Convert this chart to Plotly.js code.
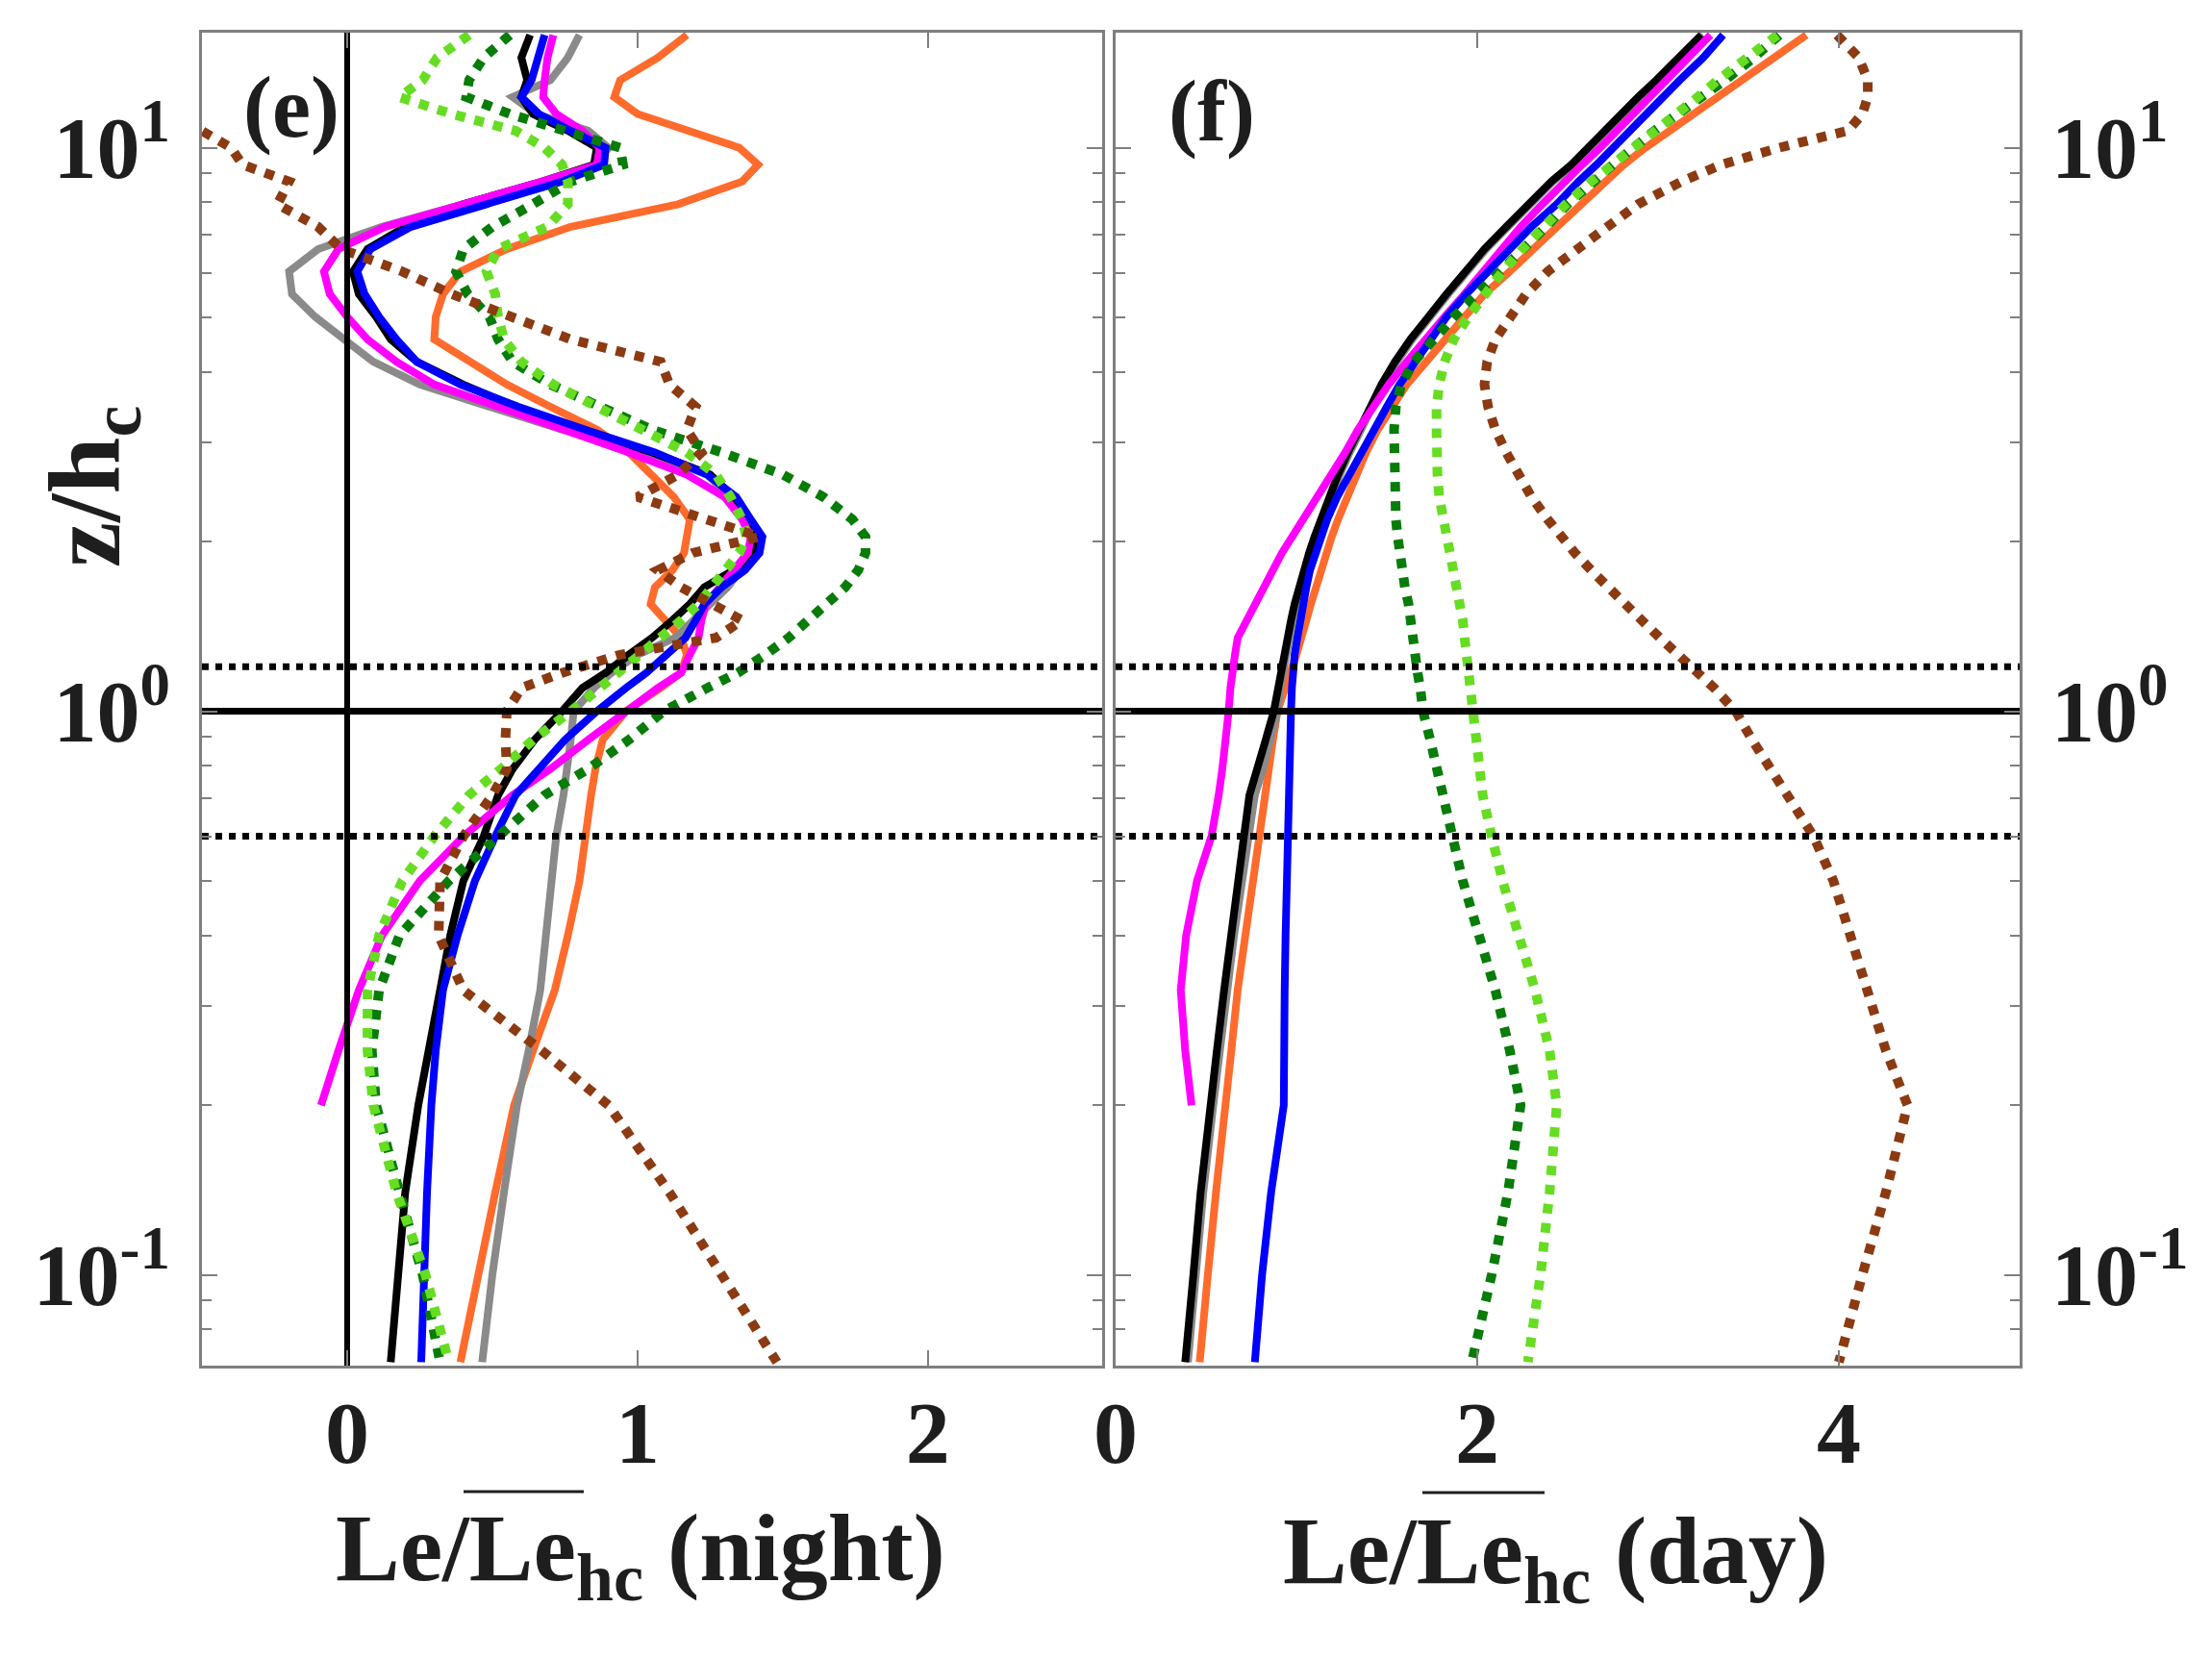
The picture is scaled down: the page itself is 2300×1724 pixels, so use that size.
<!DOCTYPE html>
<html>
<head>
<meta charset="utf-8">
<script src="https://cdn.plot.ly/plotly-3.0.1.min.js"></script>
<style>
  html, body { margin: 0; padding: 0; background: #fff; }
  #chart { width: 2300px; height: 1724px; }
</style>
</head>
<body>
<div id="chart"></div>
<script>
/* ─── Data ──────────────────────────────────────────────────────────────── */
// heights z/hc shared by every profile (top to bottom)
const zLevels = [15.85, 14.45, 13.18, 12.30, 11.48, 10.72, 10.0, 9.33, 8.71, 7.94,
  7.24, 6.61, 6.03, 5.50, 5.01, 4.57, 4.17, 3.80, 3.47, 3.16,
  2.88, 2.63, 2.40, 2.19, 2.04, 1.91, 1.78, 1.66, 1.55, 1.45,
  1.35, 1.26, 1.17, 1.10, 1.00, 0.89, 0.79, 0.71, 0.60, 0.50,
  0.40, 0.32, 0.25, 0.20, 0.14, 0.10, 0.07];

// panel (e): night
const blackNight = [0.63, 0.60, 0.62, 0.60, 0.64, 0.76, 0.86, 0.85, 0.67, 0.40,
  0.20, 0.07, 0.02, 0.04, 0.10, 0.15, 0.24, 0.40, 0.58, 0.79,
  1.05, 1.25, 1.33, 1.38, 1.42, 1.40, 1.33, 1.23, 1.18, 1.12,
  1.05, 0.97, 0.89, 0.81, 0.74, 0.645, 0.57, 0.52, 0.47, 0.40,
  0.355, 0.32, 0.28, 0.245, 0.20, 0.178, 0.15];
const blueNight = [0.68, 0.655, 0.635, 0.60, 0.66, 0.77, 0.89, 0.885, 0.74, 0.48,
  0.22, 0.08, 0.035, 0.06, 0.11, 0.17, 0.24, 0.39, 0.59, 0.82,
  1.06, 1.24, 1.34, 1.39, 1.43, 1.42, 1.37, 1.29, 1.23, 1.20,
  1.165, 1.10, 1.03, 0.96, 0.86, 0.75, 0.66, 0.58, 0.51, 0.44,
  0.38, 0.33, 0.305, 0.29, 0.275, 0.265, 0.255];
const magentaNight = [0.71, 0.69, 0.68, 0.675, 0.72, 0.81, 0.87, 0.86, 0.67, 0.39,
  0.13, -0.03, -0.08, -0.06, 0.00, 0.07, 0.17, 0.30, 0.52, 0.76,
  0.97, 1.17, 1.30, 1.36, 1.39, 1.38, 1.33, 1.28, 1.235, 1.22,
  1.21, 1.18, 1.15, 1.07, 0.96, 0.83, 0.70, 0.57, 0.40, 0.25,
  0.12, 0.04, -0.03, -0.09, null, null, null];
const grayNight = [0.80, 0.76, 0.70, 0.57, 0.65, 0.83, 0.90, 0.85, 0.68, 0.40,
  0.12, -0.10, -0.20, -0.19, -0.11, -0.01, 0.09, 0.25, 0.49, 0.74,
  1.03, 1.24, 1.32, 1.37, 1.395, 1.39, 1.355, 1.31, 1.25, 1.19,
  1.13, 1.00, 0.91, 0.85, 0.78, 0.77, 0.76, 0.745, 0.72, 0.705,
  0.69, 0.665, 0.625, 0.585, 0.54, 0.50, 0.465];
const orangeNight = [1.17, 1.07, 0.94, 0.92, 1.00, 1.18, 1.35, 1.415, 1.36, 1.14,
  0.77, 0.55, 0.39, 0.33, 0.305, 0.30, 0.42, 0.55, 0.70, 0.86,
  0.97, 1.05, 1.125, 1.18, 1.17, 1.16, 1.12, 1.06, 1.045, 1.10,
  1.15, 1.17, 1.15, 1.08, 0.96, 0.88, 0.855, 0.84, 0.82, 0.80,
  0.76, 0.715, 0.64, 0.575, 0.51, 0.45, 0.39];
const darkGreenNight = [0.56, 0.47, 0.42, 0.41, 0.56, 0.74, 0.94, 0.95, 0.77, 0.64,
  0.50, 0.40, 0.375, 0.415, 0.49, 0.52, 0.57, 0.70, 0.87, 1.05,
  1.29, 1.50, 1.64, 1.74, 1.785, 1.785, 1.76, 1.715, 1.65, 1.59,
  1.52, 1.44, 1.345, 1.24, 1.09, 0.97, 0.83, 0.68, 0.52, 0.35,
  0.18, 0.11, 0.085, 0.10, 0.18, 0.26, 0.32];
const lightGreenNight = [0.42, 0.31, 0.26, 0.18, 0.36, 0.58, 0.68, 0.74, 0.76, 0.76,
  0.69, 0.52, 0.48, 0.51, 0.52, 0.54, 0.60, 0.71, 0.86, 1.01,
  1.17, 1.27, 1.32, 1.36, 1.375, 1.35, 1.305, 1.26, 1.21, 1.15,
  1.08, 1.00, 0.935, 0.87, 0.77, 0.64, 0.53, 0.42, 0.30, 0.19,
  0.11, 0.07, 0.07, 0.09, 0.17, 0.27, 0.35];
const brownNight = [-0.90, -0.80, -0.75, -0.70, -0.60, -0.50, -0.40, -0.36, -0.20, -0.24,
  -0.10, -0.02, 0.19, 0.36, 0.56, 0.77, 1.08, 1.11, 1.20, 1.17,
  1.22, 1.14, 1.00, 1.23, 1.42, 1.19, 1.07, 1.15, 1.26, 1.36,
  1.27, 0.94, 0.74, 0.60, 0.55, 0.545, 0.55, 0.50, 0.40, 0.32,
  0.315, 0.40, 0.67, 0.90, 1.11, 1.29, 1.48];

// panel (f): day
const blackDay = [3.24, 3.12, 2.99, 2.89, 2.80, 2.71, 2.62, 2.52, 2.41, 2.28,
  2.16, 2.04, 1.93, 1.83, 1.73, 1.63, 1.545, 1.47, 1.41, 1.345,
  1.285, 1.23, 1.18, 1.135, 1.10, 1.07, 1.04, 1.01, 0.99, 0.97,
  0.95, 0.93, 0.91, 0.895, 0.875, 0.83, 0.785, 0.74, 0.71, 0.675,
  0.635, 0.60, 0.56, 0.525, 0.47, 0.43, 0.385];
const grayDay = [3.25, 3.13, 3.00, 2.90, 2.81, 2.72, 2.63, 2.53, 2.42, 2.29,
  2.17, 2.05, 1.94, 1.84, 1.74, 1.64, 1.555, 1.48, 1.42, 1.355,
  1.295, 1.24, 1.19, 1.145, 1.11, 1.08, 1.05, 1.02, 1.00, 0.98,
  0.96, 0.94, 0.925, 0.91, 0.895, 0.86, 0.815, 0.77, 0.74, 0.70,
  0.655, 0.615, 0.575, 0.54, 0.485, 0.445, 0.40];
const blueDay = [3.36, 3.25, 3.12, 3.03, 2.93, 2.84, 2.75, 2.66, 2.56, 2.44,
  2.30, 2.18, 2.06, 1.94, 1.83, 1.74, 1.65, 1.57, 1.50, 1.43,
  1.36, 1.29, 1.225, 1.17, 1.135, 1.105, 1.075, 1.055, 1.035, 1.02,
  1.005, 0.99, 0.98, 0.975, 0.97, 0.965, 0.96, 0.955, 0.95, 0.945,
  0.94, 0.935, 0.935, 0.93, 0.86, 0.81, 0.77];
const magentaDay = [3.29, 3.17, 3.04, 2.95, 2.86, 2.77, 2.68, 2.58, 2.48, 2.36,
  2.24, 2.14, 2.04, 1.93, 1.82, 1.71, 1.61, 1.51, 1.42, 1.34,
  1.27, 1.19, 1.11, 1.03, 0.97, 0.92, 0.87, 0.82, 0.77, 0.72,
  0.675, 0.66, 0.645, 0.635, 0.625, 0.61, 0.59, 0.57, 0.53, 0.45,
  0.39, 0.36, 0.385, 0.42, null, null, null];
const orangeDay = [3.82, 3.64, 3.46, 3.33, 3.20, 3.06, 2.93, 2.81, 2.71, 2.57,
  2.43, 2.31, 2.18, 2.04, 1.93, 1.82, 1.71, 1.61, 1.53, 1.45,
  1.385, 1.33, 1.28, 1.23, 1.195, 1.165, 1.135, 1.105, 1.08, 1.055,
  1.03, 1.00, 0.965, 0.935, 0.895, 0.87, 0.845, 0.82, 0.795, 0.76,
  0.715, 0.675, 0.64, 0.605, 0.555, 0.51, 0.465];
const darkGreenDay = [3.67, 3.53, 3.37, 3.25, 3.11, 2.98, 2.86, 2.75, 2.645, 2.50,
  2.38, 2.25, 2.12, 2.00, 1.87, 1.76, 1.65, 1.58, 1.55, 1.54,
  1.54, 1.54, 1.54, 1.55, 1.56, 1.57, 1.59, 1.60, 1.62, 1.63,
  1.645, 1.66, 1.67, 1.685, 1.70, 1.74, 1.775, 1.81, 1.86, 1.92,
  2.01, 2.10, 2.18, 2.24, 2.17, 2.08, 1.97];
const lightGreenDay = [3.66, 3.49, 3.33, 3.22, 3.10, 2.97, 2.85, 2.74, 2.63, 2.49,
  2.36, 2.25, 2.14, 2.04, 1.95, 1.87, 1.82, 1.79, 1.775, 1.775,
  1.775, 1.78, 1.79, 1.815, 1.835, 1.855, 1.87, 1.885, 1.90, 1.92,
  1.93, 1.94, 1.95, 1.96, 1.975, 1.99, 2.01, 2.03, 2.08, 2.14,
  2.23, 2.32, 2.40, 2.44, 2.40, 2.35, 2.28];
const brownDay = [3.99, 4.11, 4.16, 4.16, 4.13, 4.05, 3.67, 3.35, 3.13, 2.89,
  2.72, 2.56, 2.39, 2.27, 2.18, 2.10, 2.055, 2.04, 2.06, 2.10,
  2.16, 2.23, 2.30, 2.39, 2.46, 2.54, 2.63, 2.72, 2.82, 2.91,
  3.01, 3.12, 3.22, 3.31, 3.43, 3.52, 3.62, 3.72, 3.86, 3.97,
  4.06, 4.15, 4.26, 4.38, 4.26, 4.13, 4.00];

// axes and reference lines
const zRange = [0.069, 16.0];
const nightRange = [-0.5, 2.6];
const dayRange = [0, 5];
const nightTicks = [0, 1, 2];
const dayTicks = [0, 2, 4];
const zTicks = [0.1, 1, 10];
const zTickText = ["10<sup>-1</sup>", "10<sup>0</sup>", "10<sup>1</sup>"];
const zMinor = [0.08, 0.09, 0.2, 0.3, 0.4, 0.5, 0.6, 0.7, 0.8, 0.9,
  2, 3, 4, 5, 6, 7, 8, 9];
const canopyTop = 1;
const layerEdges = [0.6, 1.2];

/* ─── Styles ─────────────────────────────────────────────────────────────── */
const FONT = "Liberation Serif, Times New Roman, serif";
const INK = "#1e1e1e";
const FRAME = "#7f7f7f";

const series = [
  { name: "orange", color: "#ff6b2c", dash: "solid", night: orangeNight, day: orangeDay },
  { name: "gray", color: "#8a8a8a", dash: "solid", night: grayNight, day: grayDay },
  { name: "black", color: "#000000", dash: "solid", night: blackNight, day: blackDay },
  { name: "magenta", color: "#ff00ff", dash: "solid", night: magentaNight, day: magentaDay },
  { name: "blue", color: "#0000ff", dash: "solid", night: blueNight, day: blueDay },
  { name: "darkgreen", color: "#087c08", dash: "dot", night: darkGreenNight, day: darkGreenDay },
  { name: "lightgreen", color: "#66dd22", dash: "dot", night: lightGreenNight, day: lightGreenDay },
  { name: "brown", color: "#8b3a12", dash: "dot", night: brownNight, day: brownDay },
];

const traces = [];
series.forEach(s => {
  const w = s.dash === "dot" ? 10 : 8;
  traces.push({ type: "scatter", mode: "lines", x: s.night, y: zLevels, xaxis: "x", yaxis: "y",
    line: { color: s.color, width: w, dash: s.dash }, connectgaps: false, hoverinfo: "skip" });
  traces.push({ type: "scatter", mode: "lines", x: s.day, y: zLevels, xaxis: "x2", yaxis: "y2",
    line: { color: s.color, width: w, dash: s.dash }, connectgaps: false, hoverinfo: "skip" });
});

// reference lines: canopy top, layer edges, zero line
[["x", "y", nightRange], ["x2", "y2", dayRange]].forEach(([xa, ya, rng]) => {
  traces.push({ type: "scatter", mode: "lines", x: rng, y: [canopyTop, canopyTop], xaxis: xa, yaxis: ya,
    line: { color: "#000", width: 7 }, hoverinfo: "skip" });
  layerEdges.forEach(z => traces.push({ type: "scatter", mode: "lines", x: rng, y: [z, z], xaxis: xa, yaxis: ya,
    line: { color: "#000", width: 7, dash: "dot" }, hoverinfo: "skip" }));
});
traces.push({ type: "scatter", mode: "lines", x: [0, 0], y: zRange, xaxis: "x", yaxis: "y",
  line: { color: "#000", width: 6 }, hoverinfo: "skip" });

function xAxis(domain, range, ticks, anchor) {
  return {
    domain, range, anchor, tickmode: "array", tickvals: ticks,
    ticks: "inside", ticklen: 16, tickwidth: 2, tickcolor: FRAME,
    showline: true, linecolor: FRAME, linewidth: 3, mirror: "ticks",
    showgrid: false, zeroline: false, fixedrange: true,
    ticklabelstandoff: -12,
    tickfont: { family: FONT, size: 92, color: INK, weight: "bold" },
  };
}
function yAxis(domain, side, anchor) {
  return {
    domain, side, anchor, type: "log", range: zRange.map(Math.log10),
    tickmode: "array", tickvals: zTicks, ticktext: zTickText,
    ticks: "inside", ticklen: 16, tickwidth: 2, tickcolor: FRAME,
    minor: { tickmode: "array", tickvals: zMinor, ticks: "inside", ticklen: 10, tickwidth: 2, tickcolor: FRAME },
    showline: true, linecolor: FRAME, linewidth: 3, mirror: "ticks",
    showgrid: false, zeroline: false, fixedrange: true,
    ticklabelstandoff: 12,
    tickfont: { family: FONT, size: 90, color: INK, weight: "bold" },
  };
}

const W = 2300, H = 1724;
const yDom = [1 - 1420 / H, 1 - 34 / H];

const label = (text, x, y, size, extra) => Object.assign({
  text, x: x / W, y: 1 - y / H, xref: "paper", yref: "paper", showarrow: false,
  xanchor: "center", yanchor: "middle",
  font: { family: FONT, size, color: INK, weight: "bold" },
}, extra || {});

const layout = {
  width: W, height: H, margin: { l: 0, r: 0, t: 0, b: 0 },
  paper_bgcolor: "#fff", plot_bgcolor: "#fff", showlegend: false,
  xaxis: xAxis([210 / W, 1146 / W], nightRange, nightTicks, "y"),
  yaxis: yAxis(yDom, "left", "x"),
  xaxis2: xAxis([1160 / W, 2100 / W], dayRange, dayTicks, "y2"),
  yaxis2: yAxis(yDom, "right", "x2"),
  annotations: [
    label("(e)", 303, 112, 90),
    label("(f)", 1260, 116, 90),
    label("z/h<sub>c</sub>", 96, 506, 106, { textangle: -90 }),
    label("Le/Le<sub>hc</sub> (night)", 666, 1616, 100),
    label("Le/Le<sub>hc</sub> (day)", 1617, 1619, 100),
  ],
  shapes: [
    { type: "line", xref: "paper", yref: "paper", x0: 482 / W, x1: 607 / W, y0: 1 - 1551 / H, y1: 1 - 1551 / H,
      line: { color: INK, width: 3 } },
    { type: "line", xref: "paper", yref: "paper", x0: 1479 / W, x1: 1606 / W, y0: 1 - 1552 / H, y1: 1 - 1552 / H,
      line: { color: INK, width: 3 } },
  ],
};

Plotly.newPlot("chart", traces, layout, { staticPlot: true, displayModeBar: false });
</script>
</body>
</html>
